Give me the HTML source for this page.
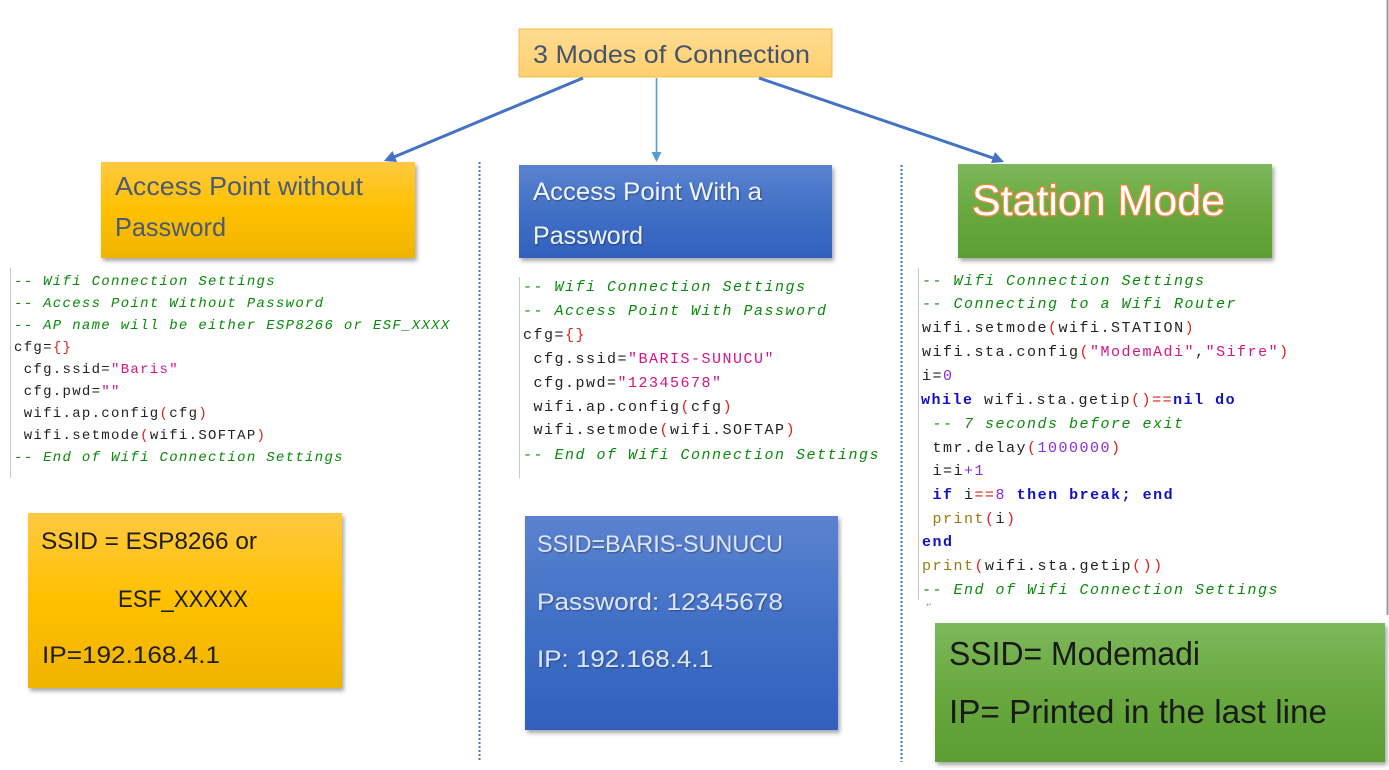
<!DOCTYPE html>
<html>
<head>
<meta charset="utf-8">
<style>
html,body{margin:0;padding:0;background:#fff;}
svg{display:block;}
.code1{font-family:"Liberation Mono",monospace;font-size:14px;letter-spacing:1.3px;fill:#222;}
.code2{font-family:"Liberation Mono",monospace;font-size:15px;letter-spacing:1.5px;fill:#222;}
.cm{fill:#0a8a0a;font-style:italic;}
.st{fill:#d4138a;}
.pr{fill:#e0201e;}
.nu{fill:#8a2be2;}
.kw{fill:#1010c8;font-weight:bold;}
.fn{fill:#9a7a10;}
.sans{font-family:"Liberation Sans",sans-serif;}
</style>
</head>
<body>
<svg width="1389" height="770" viewBox="0 0 1389 770" xmlns="http://www.w3.org/2000/svg">
<defs>
  <linearGradient id="gTitle" x1="0" y1="0" x2="0" y2="1">
    <stop offset="0" stop-color="#ffdc92"/>
    <stop offset="1" stop-color="#ffcf6f"/>
  </linearGradient>
  <linearGradient id="gOr" x1="0" y1="0" x2="0" y2="1">
    <stop offset="0" stop-color="#ffc941"/>
    <stop offset="0.5" stop-color="#ffc000"/>
    <stop offset="1" stop-color="#efb400"/>
  </linearGradient>
  <linearGradient id="gBl" x1="0" y1="0" x2="0" y2="1">
    <stop offset="0" stop-color="#5b82cf"/>
    <stop offset="0.5" stop-color="#4170c6"/>
    <stop offset="1" stop-color="#3061be"/>
  </linearGradient>
  <linearGradient id="gGr" x1="0" y1="0" x2="0" y2="1">
    <stop offset="0" stop-color="#7db85b"/>
    <stop offset="0.5" stop-color="#68a83f"/>
    <stop offset="1" stop-color="#5c9e32"/>
  </linearGradient>
  <filter id="sh" x="-10%" y="-10%" width="125%" height="130%">
    <feDropShadow dx="2" dy="3" stdDeviation="2" flood-color="#000" flood-opacity="0.35"/>
  </filter>
  <filter id="tsh" x="-5%" y="-20%" width="110%" height="150%">
    <feDropShadow dx="1" dy="1" stdDeviation="0.8" flood-color="#000" flood-opacity="0.35"/>
  </filter>
</defs>

<!-- right edge gray line -->
<line x1="1387.5" y1="0" x2="1387.5" y2="615" stroke="#9a9a9a" stroke-width="2"/>

<!-- dotted separators -->
<line x1="479.5" y1="162" x2="479.5" y2="762" stroke="#4472c4" stroke-width="2" stroke-dasharray="2,2"/>
<line x1="901.5" y1="165" x2="901.5" y2="762" stroke="#4472c4" stroke-width="2" stroke-dasharray="2,2"/>

<!-- title box -->
<rect x="519" y="29" width="313" height="48" fill="url(#gTitle)" stroke="#f5bb45" stroke-width="1"/>
<text class="sans" x="533" y="63" font-size="25" fill="#44546a" textLength="277" lengthAdjust="spacingAndGlyphs">3 Modes of Connection</text>

<!-- arrows -->
<line x1="583" y1="78" x2="394" y2="157" stroke="#4472c4" stroke-width="3"/>
<polygon points="384,161 397,162 392.5,151" fill="#4472c4"/>
<line x1="656.5" y1="78" x2="656.5" y2="153" stroke="#5b9bd5" stroke-width="1.6"/>
<polygon points="651.5,152 661.5,152 656.5,162" fill="#5b9bd5"/>
<line x1="759" y1="78" x2="993" y2="158" stroke="#4472c4" stroke-width="3"/>
<polygon points="1004,162 991,163 995,152" fill="#4472c4"/>

<!-- header boxes -->
<rect x="101" y="162" width="314" height="96" fill="url(#gOr)" filter="url(#sh)"/>
<text class="sans" x="115" y="195" font-size="26" fill="#4a5b72" textLength="248" lengthAdjust="spacingAndGlyphs">Access Point without</text>
<text class="sans" x="115" y="236" font-size="26" fill="#4a5b72" textLength="111" lengthAdjust="spacingAndGlyphs">Password</text>

<rect x="519" y="165" width="313" height="93" fill="url(#gBl)" filter="url(#sh)"/>
<text class="sans" x="533" y="200" font-size="25" fill="#eef2fa" filter="url(#tsh)" textLength="229" lengthAdjust="spacingAndGlyphs">Access Point With a</text>
<text class="sans" x="533" y="244" font-size="25" fill="#eef2fa" filter="url(#tsh)" textLength="110" lengthAdjust="spacingAndGlyphs">Password</text>

<rect x="958" y="164" width="314" height="94" fill="url(#gGr)" filter="url(#sh)"/>
<text class="sans" x="972" y="215" font-size="43" fill="#ffffff" stroke="#f0883a" stroke-width="2.5" paint-order="stroke" textLength="253" lengthAdjust="spacingAndGlyphs">Station Mode</text>

<!-- code block 1 -->
<line x1="10.5" y1="268" x2="10.5" y2="478" stroke="#c8c8c8" stroke-width="1"/>
<g class="code1">
<text x="14" y="285" class="cm">-- Wifi Connection Settings</text>
<text x="14" y="307" class="cm">-- Access Point Without Password</text>
<text x="14" y="329" class="cm">-- AP name will be either ESP8266 or ESF_XXXX</text>
<text x="14" y="351">cfg=<tspan class="pr">{}</tspan></text>
<text x="23.7" y="373">cfg.ssid=<tspan class="st">"Baris"</tspan></text>
<text x="23.7" y="395">cfg.pwd=<tspan class="st">""</tspan></text>
<text x="23.7" y="417">wifi.ap.config<tspan class="pr">(</tspan>cfg<tspan class="pr">)</tspan></text>
<text x="23.7" y="439">wifi.setmode<tspan class="pr">(</tspan>wifi.SOFTAP<tspan class="pr">)</tspan></text>
<text x="14" y="461" class="cm">-- End of Wifi Connection Settings</text>
</g>

<!-- code block 2 -->
<line x1="519.5" y1="277" x2="519.5" y2="478" stroke="#c8c8c8" stroke-width="1"/>
<g class="code2">
<text x="523" y="291" class="cm">-- Wifi Connection Settings</text>
<text x="523" y="315" class="cm">-- Access Point With Password</text>
<text x="523" y="339">cfg=<tspan class="pr">{}</tspan></text>
<text x="533.5" y="363">cfg.ssid=<tspan class="st">"BARIS-SUNUCU"</tspan></text>
<text x="533.5" y="387">cfg.pwd=<tspan class="st">"12345678"</tspan></text>
<text x="533.5" y="411">wifi.ap.config<tspan class="pr">(</tspan>cfg<tspan class="pr">)</tspan></text>
<text x="533.5" y="434">wifi.setmode<tspan class="pr">(</tspan>wifi.SOFTAP<tspan class="pr">)</tspan></text>
<text x="523" y="459" class="cm">-- End of Wifi Connection Settings</text>
</g>

<!-- code block 3 -->
<line x1="918.5" y1="268" x2="918.5" y2="600" stroke="#c8c8c8" stroke-width="1"/>
<g class="code2">
<text x="922" y="285" class="cm">-- Wifi Connection Settings</text>
<text x="922" y="308" class="cm">-- Connecting to a Wifi Router</text>
<text x="922" y="332">wifi.setmode<tspan class="pr">(</tspan>wifi.STATION<tspan class="pr">)</tspan></text>
<text x="922" y="356">wifi.sta.config<tspan class="pr">(</tspan><tspan class="st">"ModemAdi"</tspan>,<tspan class="st">"Sifre"</tspan><tspan class="pr">)</tspan></text>
<text x="922" y="380">i=<tspan class="nu">0</tspan></text>
<text x="921" y="404"><tspan class="kw">while</tspan> wifi.sta.getip<tspan class="pr">()</tspan><tspan class="pr">==</tspan><tspan class="kw">nil do</tspan></text>
<text x="932.5" y="428" class="cm">-- 7 seconds before exit</text>
<text x="932.5" y="452">tmr.delay<tspan class="pr">(</tspan><tspan class="nu">1000000</tspan><tspan class="pr">)</tspan></text>
<text x="932.5" y="475">i=i<tspan class="nu">+1</tspan></text>
<text x="932.5" y="499"><tspan class="kw">if</tspan> i<tspan class="pr">==</tspan><tspan class="nu">8</tspan> <tspan class="kw">then break;</tspan> <tspan class="kw">end</tspan></text>
<text x="932.5" y="523"><tspan class="fn">print</tspan><tspan class="pr">(</tspan>i<tspan class="pr">)</tspan></text>
<text x="922" y="546" class="kw">end</text>
<text x="922" y="570"><tspan class="fn">print</tspan><tspan class="pr">(</tspan>wifi.sta.getip<tspan class="pr">())</tspan></text>
<text x="922" y="594" class="cm">-- End of Wifi Connection Settings</text>
</g>
<text x="926" y="607" font-family="Liberation Sans, sans-serif" font-size="7" fill="#999">↵</text>

<!-- bottom info boxes -->
<rect x="28" y="513" width="314" height="175" fill="url(#gOr)" filter="url(#sh)"/>
<g class="sans" font-size="24" fill="#1e1e1e">
<text x="41" y="549" textLength="216" lengthAdjust="spacingAndGlyphs">SSID = ESP8266 or</text>
<text x="118" y="607" textLength="130" lengthAdjust="spacingAndGlyphs">ESF_XXXXX</text>
<text x="42" y="663" textLength="178" lengthAdjust="spacingAndGlyphs">IP=192.168.4.1</text>
</g>

<rect x="525" y="516" width="313" height="214" fill="url(#gBl)" filter="url(#sh)"/>
<g class="sans" font-size="24" fill="#dde5f4" filter="url(#tsh)">
<text x="537" y="552" textLength="246" lengthAdjust="spacingAndGlyphs">SSID=BARIS-SUNUCU</text>
<text x="537" y="610" textLength="246" lengthAdjust="spacingAndGlyphs">Password: 12345678</text>
<text x="537" y="667" textLength="176" lengthAdjust="spacingAndGlyphs">IP: 192.168.4.1</text>
</g>

<rect x="935" y="623" width="450" height="139" fill="url(#gGr)" filter="url(#sh)"/>
<g class="sans" font-size="33" fill="#1a1a1a">
<text x="949" y="665" textLength="251" lengthAdjust="spacingAndGlyphs">SSID= Modemadi</text>
<text x="949" y="723" textLength="378" lengthAdjust="spacingAndGlyphs">IP= Printed in the last line</text>
</g>
</svg>
</body>
</html>
